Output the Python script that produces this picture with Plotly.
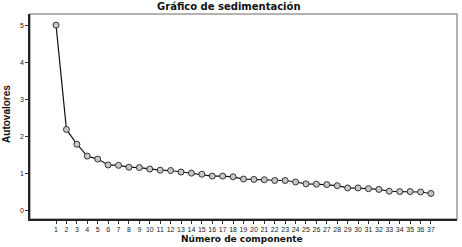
import plotly.graph_objects as go

components = list(range(1, 38))
eigenvalues = [5.00, 2.18, 1.78, 1.46, 1.38, 1.22, 1.21, 1.16, 1.15, 1.11,
               1.08, 1.07, 1.03, 1.00, 0.97, 0.92, 0.92, 0.90, 0.84, 0.83,
               0.82, 0.80, 0.80, 0.76, 0.71, 0.70, 0.69, 0.66, 0.60, 0.60,
               0.58, 0.56, 0.51, 0.50, 0.50, 0.49, 0.45]
y_ticks = [0, 1, 2, 3, 4, 5]

fig = go.Figure()
fig.add_trace(go.Scatter(
    x=components, y=eigenvalues, mode="lines+markers",
    line=dict(color="#111111", width=1.2),
    marker=dict(symbol="circle", size=6, color="#c8c8c8",
                line=dict(color="#333333", width=1)),
    showlegend=False,
))

fig.add_shape(type="rect", xref="paper", yref="paper", x0=0, y0=0, x1=1, y1=1,
              line=dict(color="#9a9a9a", width=1.5), layer="below")

fig.add_annotation(text="<b>Gráfico de sedimentación</b>", xref="paper", yref="paper",
                   x=0.466, y=1, yshift=0, xanchor="center", yanchor="bottom", showarrow=False,
                   font=dict(family="DejaVu Sans", size=10, color="#111111"))
fig.add_annotation(text="<b>Número de componente</b>", xref="paper", yref="paper",
                   x=0.497, y=0, yshift=-13, xanchor="center", yanchor="top", showarrow=False,
                   font=dict(family="DejaVu Sans", size=9, color="#111111"))
fig.add_annotation(text="<b>Autovalores</b>", xref="paper", yref="paper",
                   x=0, xshift=-16, y=0.51, xanchor="right", yanchor="middle", textangle=-90,
                   showarrow=False,
                   font=dict(family="Liberation Sans Narrow, Liberation Sans", size=10, color="#111111"))

fig.update_layout(
    width=462, height=247,
    margin=dict(l=30, r=5, t=14, b=28, autoexpand=False),
    paper_bgcolor="white", plot_bgcolor="white",
    xaxis=dict(
        range=[-1.5, 39.5], tickmode="array", tickvals=components,
        ticktext=[str(c) for c in components],
        ticks="outside", ticklen=3, tickcolor="#333333", tickwidth=1,
        showgrid=False, zeroline=False, automargin=False,
        showline=True, linecolor="#222222", linewidth=1.5,
        tickfont=dict(family="Liberation Sans Narrow, Liberation Sans", size=7, color="#222222"),
    ),
    yaxis=dict(
        range=[-0.24, 5.3], tickmode="array", tickvals=y_ticks,
        ticks="outside", ticklen=3, tickcolor="#333333", tickwidth=1,
        showgrid=False, zeroline=False, automargin=False,
        showline=True, linecolor="#222222", linewidth=1.5,
        tickfont=dict(family="Liberation Sans Narrow, Liberation Sans", size=7, color="#222222"),
    ),
)

fig.write_html("out.html", config={"displayModeBar": False},
               post_script="document.body.style.margin='0';")
